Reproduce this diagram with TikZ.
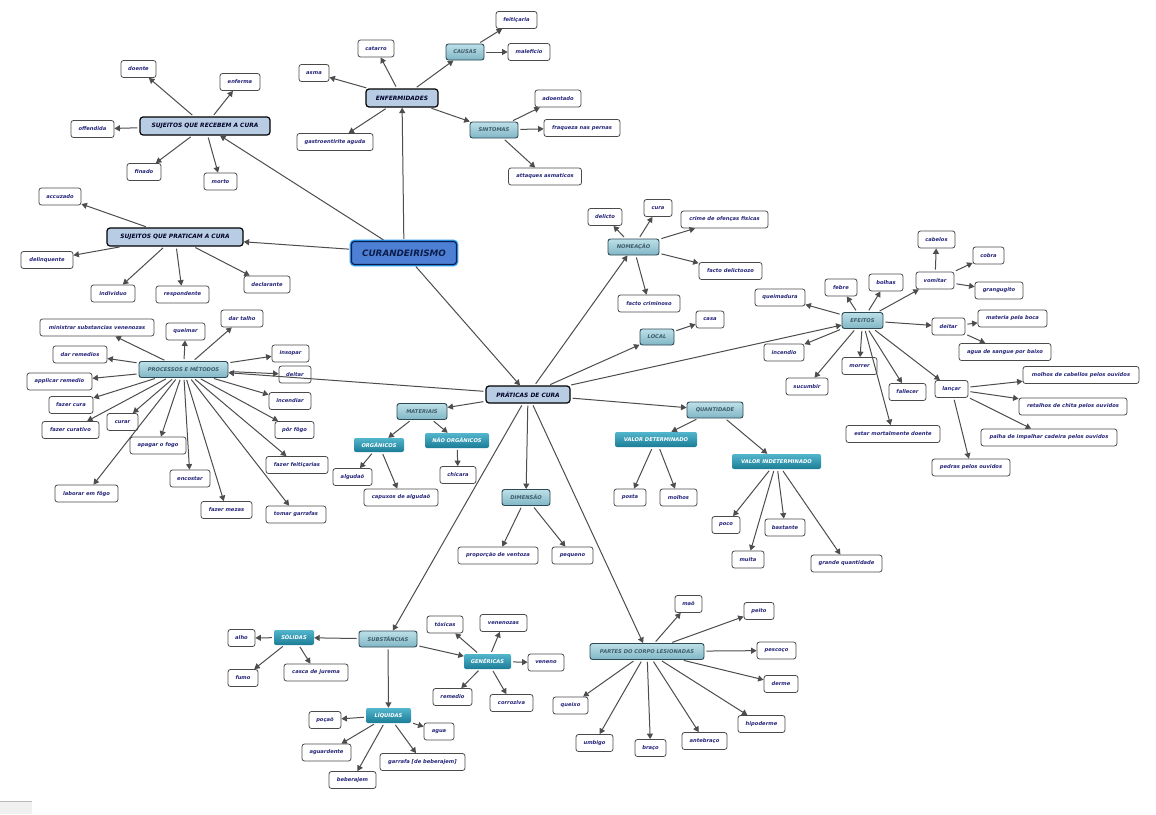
\documentclass[tikz,border=0pt]{standalone}
\usepackage{fontspec}
\newfontfamily\dv{DejaVu Sans}
\usetikzlibrary{arrows.meta}
\definecolor{leaftext}{HTML}{25257A}
\definecolor{leafline}{HTML}{4A4A4A}
\definecolor{mainfill}{HTML}{B8CCE4}
\definecolor{cattop}{HTML}{BDE0E8}
\definecolor{catbot}{HTML}{80B6C5}
\definecolor{cattext}{HTML}{3E5C68}
\definecolor{catline}{HTML}{2E4A55}
\definecolor{subtop}{HTML}{52B6CD}
\definecolor{subbot}{HTML}{1C7C96}
\definecolor{rootfill}{HTML}{4D80D4}
\definecolor{rootglow}{HTML}{2C9CF2}
\definecolor{roottext}{HTML}{0C1C4A}
\definecolor{edgecol}{HTML}{4D4D4D}
\tikzset{
  leaf/.style={draw=leafline, line width=0.8pt, rounded corners=2.5pt, fill=white,
    text=leaftext, font=\dv\bfseries\itshape\fontsize{5.2}{6}\selectfont,
    minimum height=17pt, inner sep=1.5pt},
  mainbox/.style={draw=black, line width=1.2pt, rounded corners=3pt, fill=mainfill,
    text=black!85!blue, font=\dv\bfseries\itshape\fontsize{5.9}{7}\selectfont,
    minimum height=18pt, inner sep=1.5pt},
  catbox/.style={draw=catline, line width=0.9pt, rounded corners=2.5pt, top color=cattop,
    bottom color=catbot, text=cattext, font=\dv\bfseries\itshape\fontsize{5.2}{6}\selectfont,
    minimum height=16pt, inner sep=1.5pt},
  subbox/.style={rounded corners=2pt, top color=subtop, bottom color=subbot, draw=none,
    text=white, font=\dv\bfseries\itshape\fontsize{5.2}{6}\selectfont,
    minimum height=15pt, inner sep=1.5pt},
  rootbox/.style={draw=roottext, line width=1.1pt, rounded corners=3pt, fill=rootfill,
    preaction={draw=rootglow, line width=3.6pt, rounded corners=3.5pt},
    text=roottext, font=\dv\bfseries\itshape\fontsize{8.8}{10}\selectfont,
    minimum height=23pt, inner sep=1.5pt},
  arr/.style={draw=edgecol, line width=1pt, shorten <=2pt,
    -{Triangle[length=5.5pt,width=6pt]}}
}
\newcommand\mkleaf[4]{\node[leaf,minimum width=#3pt] (#1) at (#2) {#4};}
\newcommand\mkcat[4]{\node[catbox,minimum width=#3pt] (#1) at (#2) {#4};}
\newcommand\mksub[4]{\node[subbox,minimum width=#3pt] (#1) at (#2) {#4};}
\newcommand\mkmain[4]{\node[mainbox,minimum width=#3pt] (#1) at (#2) {#4};}
\begin{document}
\begin{tikzpicture}[x=1pt,y=-1pt]
\useasboundingbox (0,0) rectangle (1156,814);
\fill[white] (0,0) rectangle (1156,814);
\fill[gray!12] (0,801) rectangle (32,814);
\draw[gray!55, line width=1.2pt] (0,801.5) -- (32,801.5);

% root and main
\node[rootbox,minimum width=105pt] (cur) at (404,253) {CURANDEIRISMO};
\mkmain{sr}{205,126}{130}{SUJEITOS QUE RECEBEM A CURA}
\mkmain{sp}{175,237}{136}{SUJEITOS QUE PRATICAM A CURA}
\mkmain{enf}{402,98}{72}{ENFERMIDADES}
\node[mainbox,minimum width=84pt,minimum height=17pt] (pc) at (528,394.5) {PRÁTICAS DE CURA};

% categories
\mkcat{causas}{465,52}{38}{CAUSAS}
\mkcat{sint}{494,130}{48}{SINTOMAS}
\mkcat{proc}{183.5,369.5}{89}{PROCESSOS E MÉTODOS}
\mkcat{mat}{422,411.5}{50}{MATERIAIS}
\mkcat{dim}{526,497.5}{48}{DIMENSÃO}
\mkcat{quant}{715,410}{56}{QUANTIDADE}
\mkcat{nome}{633.5,247}{51}{NOMEAÇÃO}
\mkcat{local}{657,337}{34}{LOCAL}
\mkcat{efe}{862.5,320.5}{41}{EFEITOS}
\mkcat{subst}{388,639}{58}{SUBSTÂNCIAS}
\mkcat{partes}{647,651.5}{114}{PARTES DO CORPO LESIONADAS}

% sub categories
\node[subbox,minimum width=50pt,minimum height=14pt] (org) at (379,445) {ORGÂNICOS};
\mksub{norg}{457,440.5}{64}{NÃO ORGÂNICOS}
\mksub{vd}{656,439.5}{82}{VALOR DETERMINADO}
\mksub{vi}{776.5,461.5}{89}{VALOR INDETERMINADO}
\mksub{sol}{294,637.5}{40}{SÓLIDAS}
\mksub{gen}{487.5,661.5}{47}{GENÉRICAS}
\mksub{liq}{388.5,715.5}{45}{LÍQUIDAS}

% leaves
\mkleaf{doente}{138.5,69}{35}{doente}
\mkleaf{enferma}{240,82}{40}{enferma}
\mkleaf{offendida}{92.5,129}{43}{offendida}
\mkleaf{finado}{144,172}{34}{finado}
\mkleaf{morto}{220.5,181.5}{33}{morto}
\mkleaf{accuzado}{60,196.5}{42}{accuzado}
\mkleaf{delinquente}{47,260}{52}{delinquente}
\mkleaf{individuo}{113,293.5}{44}{individuo}
\mkleaf{respondente}{182.5,294.5}{53}{respondente}
\mkleaf{declarante}{267,284.5}{46}{declarante}
\mkleaf{feiticaria}{516.5,20}{41}{feitiçaria}
\mkleaf{catarro}{376,48.5}{36}{catarro}
\mkleaf{maleficio}{529,52}{42}{maleficio}
\mkleaf{asma}{314,73}{30}{asma}
\mkleaf{adoentado}{558,98.5}{46}{adoentado}
\mkleaf{fraqueza}{582,128}{76}{fraqueza nas pernas}
\mkleaf{gastro}{335,142}{76}{gastroentirite aguda}
\mkleaf{attaques}{545,176.5}{73}{attaques asmaticos}
\mkleaf{ministrar}{97,327.5}{114}{ministrar substancias venenozas}
\mkleaf{queimar}{185.5,331.5}{39}{queimar}
\mkleaf{dartalho}{242,318.5}{42}{dar talho}
\mkleaf{darremedios}{80,354.5}{54}{dar remedios}
\mkleaf{insopar}{290.5,353.5}{37}{insopar}
\mkleaf{deitarA}{295,374.5}{32}{deitar}
\mkleaf{applicar}{59.5,381.5}{65}{applicar remedio}
\mkleaf{incendiar}{290,401}{42}{incendiar}
\mkleaf{fazercura}{71,405}{44}{fazer cura}
\mkleaf{curar}{122.5,422}{31}{curar}
\mkleaf{fazercurativo}{70.5,430}{57}{fazer curativo}
\mkleaf{porfogo}{294.5,430}{39}{pôr fôgo}
\mkleaf{apagar}{158,445.5}{56}{apagar o fogo}
\mkleaf{fazerfeit}{297,465}{62}{fazer feitiçarias}
\mkleaf{encostar}{190,478.5}{40}{encostar}
\mkleaf{laborar}{86.5,493.5}{63}{laborar em fôgo}
\mkleaf{fazermezas}{226.5,510}{51}{fazer mezas}
\mkleaf{tomar}{296,514.5}{60}{tomar garrafas}
\mkleaf{algudao}{352.5,477}{39}{algudaõ}
\mkleaf{chicara}{458,475}{36}{chicara}
\mkleaf{capuxos}{401,497.5}{74}{capuxos de algudaõ}
\mkleaf{proporcao}{498,555.5}{80}{proporção de ventoza}
\mkleaf{pequeno}{572.5,555.5}{41}{pequeno}
\mkleaf{posta}{630,497.5}{32}{posta}
\mkleaf{molhos}{678.5,497.5}{37}{molhos}
\mkleaf{poco}{726,525}{28}{poco}
\mkleaf{bastante}{785,527.5}{40}{bastante}
\mkleaf{muita}{748,559.5}{32}{muita}
\mkleaf{grande}{846.5,563.5}{71}{grande quantidade}
\mkleaf{delicto}{605,217}{34}{delicto}
\mkleaf{cura}{658,208}{28}{cura}
\mkleaf{crime}{724.5,219.5}{87}{crime de ofenças fisicas}
\mkleaf{factodel}{730.5,271}{63}{facto delictoozo}
\mkleaf{factocrim}{649,303.5}{62}{facto criminoso}
\mkleaf{casa}{710,319.5}{28}{casa}
\mkleaf{cabelos}{936.5,239.5}{37}{cabelos}
\mkleaf{cobra}{988.5,255.5}{31}{cobra}
\mkleaf{febre}{841,287.5}{32}{febre}
\mkleaf{bolhas}{886,282.5}{34}{bolhas}
\mkleaf{vomitar}{935,280.5}{38}{vomitar}
\mkleaf{grangugito}{999,290.5}{48}{grangugito}
\mkleaf{queimadura}{780,297.5}{50}{queimadura}
\mkleaf{materia}{1012.5,318.5}{69}{materia pela boca}
\mkleaf{deitarB}{948.5,326.5}{33}{deitar}
\mkleaf{incendio}{784,352.5}{40}{incendio}
\mkleaf{aguasangue}{1005,352}{92}{agua de sangue por baixo}
\mkleaf{morrer}{859.5,366}{35}{morrer}
\mkleaf{sucumbir}{807,386.5}{42}{sucumbir}
\mkleaf{fallecer}{907.5,392}{37}{fallecer}
\mkleaf{lancar}{951.5,389}{33}{lançar}
\mkleaf{molhoscab}{1081,375}{116}{molhos de cabellos pelos ouvidos}
\mkleaf{retalhos}{1073,406.5}{108}{retalhos de chita pelos ouvidos}
\mkleaf{estar}{893,434}{94}{estar mortalmente doente}
\mkleaf{palha}{1049,437.5}{136}{palha de impalhar cadeira pelos ouvidos}
\mkleaf{pedras}{971,467.5}{78}{pedras pelos ouvidos}
\mkleaf{toxicas}{445,624.5}{36}{tóxicas}
\mkleaf{venenozas}{503.5,623}{47}{venenozas}
\mkleaf{alho}{241.5,638}{27}{alho}
\mkleaf{veneno}{546,662.5}{36}{veneno}
\mkleaf{fumo}{243,678}{30}{fumo}
\mkleaf{casca}{316,672.5}{64}{casca de jurema}
\mkleaf{remedio}{452.5,697}{39}{remedio}
\mkleaf{corroziva}{511.5,703}{43}{corroziva}
\mkleaf{pocao}{325,720}{32}{poçaõ}
\mkleaf{agua}{439,731.5}{30}{agua}
\mkleaf{aguardente}{326.5,752.5}{49}{aguardente}
\mkleaf{garrafa}{422.5,762}{85}{garrafa [de beberajem]}
\mkleaf{beberajem}{352.5,780}{47}{beberajem}
\mkleaf{mao}{688.5,604}{27}{maõ}
\mkleaf{peito}{759,611}{30}{peito}
\mkleaf{pescoco}{776.5,650.5}{39}{pescoço}
\mkleaf{derme}{781,684}{34}{derme}
\mkleaf{queixo}{570.5,705.5}{35}{queixo}
\mkleaf{hipoderme}{761.5,724}{47}{hipoderme}
\mkleaf{umbigo}{594.5,743}{37}{umbigo}
\mkleaf{antebraco}{704.5,741}{45}{antebraço}
\mkleaf{braco}{650.5,748}{31}{braço}

% connectors
\foreach \t in {sr,enf,sp,pc} \draw[arr] (cur) -- (\t);
\foreach \t in {doente,enferma,offendida,finado,morto} \draw[arr] (sr) -- (\t);
\foreach \t in {accuzado,delinquente,individuo,respondente,declarante} \draw[arr] (sp) -- (\t);
\foreach \t in {asma,catarro,causas,sint,gastro} \draw[arr] (enf) -- (\t);
\foreach \t in {feiticaria,maleficio} \draw[arr] (causas) -- (\t);
\foreach \t in {adoentado,fraqueza,attaques} \draw[arr] (sint) -- (\t);
\foreach \t in {proc,mat,dim,quant,nome,local,efe,subst,partes} \draw[arr] (pc) -- (\t);
\foreach \t in {ministrar,queimar,dartalho,darremedios,insopar,deitarA,applicar,incendiar,fazercura,curar,fazercurativo,porfogo,apagar,fazerfeit,encostar,laborar,fazermezas,tomar} \draw[arr] (proc) -- (\t);
\foreach \t in {org,norg} \draw[arr] (mat) -- (\t);
\foreach \t in {algudao,capuxos} \draw[arr] (org) -- (\t);
\draw[arr] (norg) -- (chicara);
\foreach \t in {proporcao,pequeno} \draw[arr] (dim) -- (\t);
\foreach \t in {vd,vi} \draw[arr] (quant) -- (\t);
\foreach \t in {posta,molhos} \draw[arr] (vd) -- (\t);
\foreach \t in {poco,muita,bastante,grande} \draw[arr] (vi) -- (\t);
\foreach \t in {delicto,cura,crime,factodel,factocrim} \draw[arr] (nome) -- (\t);
\draw[arr] (local) -- (casa);
\foreach \t in {queimadura,febre,bolhas,vomitar,deitarB,incendio,sucumbir,morrer,fallecer,estar,lancar} \draw[arr] (efe) -- (\t);
\foreach \t in {cabelos,cobra,grangugito} \draw[arr] (vomitar) -- (\t);
\foreach \t in {materia,aguasangue} \draw[arr] (deitarB) -- (\t);
\foreach \t in {molhoscab,retalhos,palha,pedras} \draw[arr] (lancar) -- (\t);
\foreach \t in {sol,liq,gen} \draw[arr] (subst) -- (\t);
\foreach \t in {alho,fumo,casca} \draw[arr] (sol) -- (\t);
\foreach \t in {pocao,agua,aguardente,beberajem,garrafa} \draw[arr] (liq) -- (\t);
\foreach \t in {toxicas,venenozas,veneno,remedio,corroziva} \draw[arr] (gen) -- (\t);
\foreach \t in {mao,peito,pescoco,derme,hipoderme,antebraco,braco,umbigo,queixo} \draw[arr] (partes) -- (\t);
\end{tikzpicture}
\end{document}
